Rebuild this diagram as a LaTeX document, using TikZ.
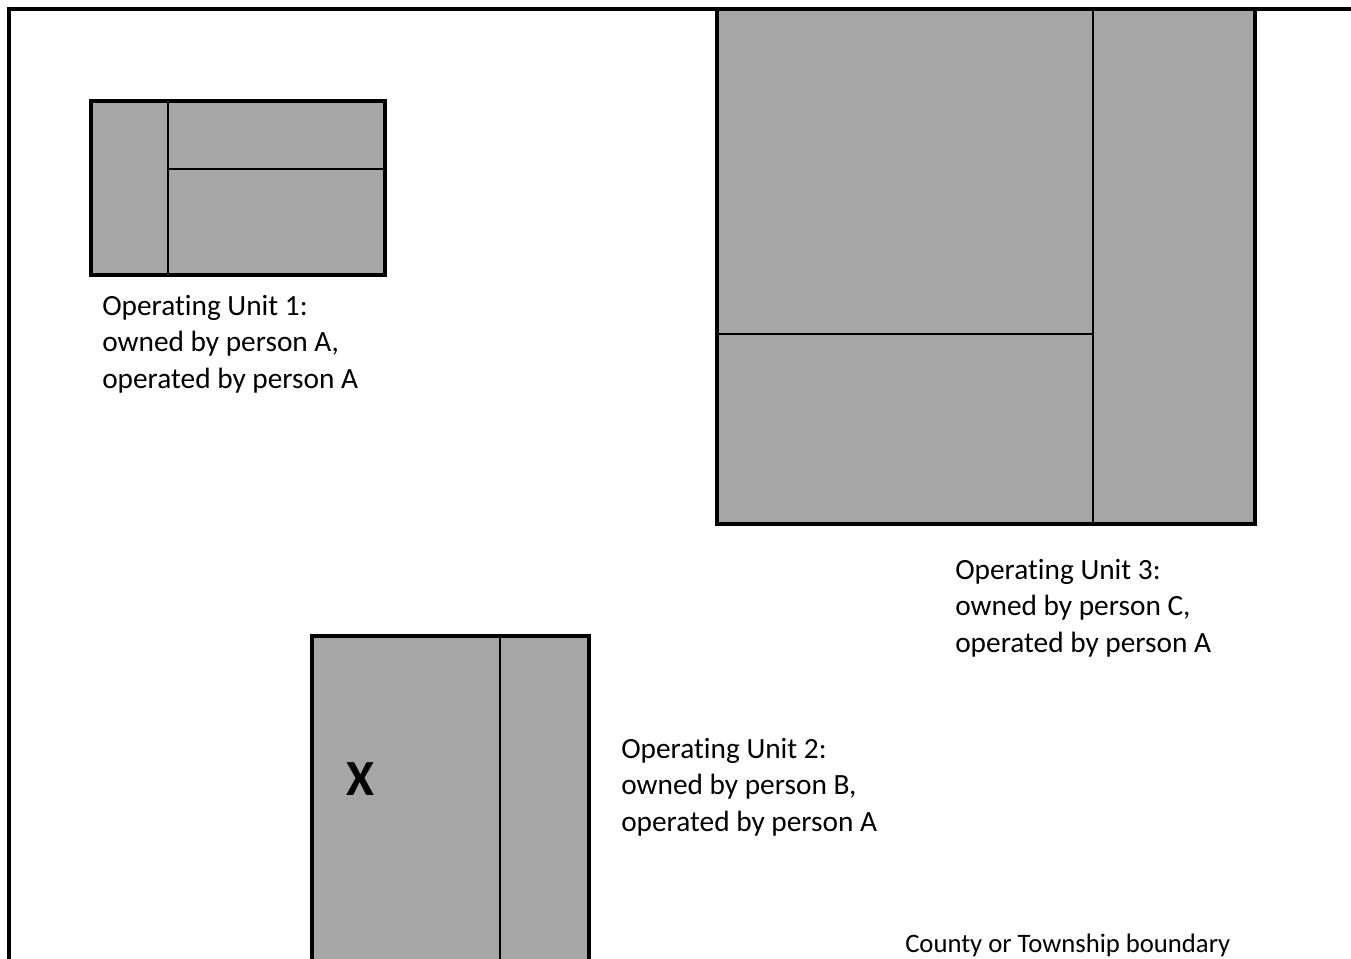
\documentclass[tikz,border=0pt]{standalone}
\usepackage{fontspec}
\setmainfont{Carlito}[Ligatures=NoCommon]
\usetikzlibrary{positioning}
\definecolor{parcelgray}{RGB}{166,166,166}
\tikzset{
    every picture/.style={
        x=0.75pt,y=-0.75pt,
        unit/.style={fill=parcelgray,draw=black,line width=2.6pt},
        divider/.style={draw=black,line width=1.3pt},
        boundary/.style={draw=black,line width=2.6pt},
        caption/.style={anchor=west,align=left,inner sep=0pt,
            font=\fontsize{22}{27.5}\selectfont}
    }
}
\begin{document}
\begin{tikzpicture}
    \useasboundingbox (0,0) rectangle (1351,958);
    \clip (0,0) rectangle (1351,958);
    \fill[white] (0,0) rectangle (1351,958);
    % operating unit 1
    \draw[unit] (91,101) rectangle (385,275);
    \draw[divider] (168,101) -- (168,275)
                   (168,169) -- (385,169);
    % operating unit 3
    \draw[unit] (717,9) rectangle (1255,524);
    \draw[divider] (1093,9) -- (1093,524)
                   (717,334) -- (1093,334);
    % operating unit 2
    \draw[unit] (312,636) rectangle (589,980);
    \draw[divider] (500,636) -- (500,980);
    % county boundary
    \draw[boundary] (1400,9) -- (9,9) -- (9,1000);
    % labels
    \node[font=\fontsize{38}{38}\bfseries\selectfont] (x) at (360,779) {X};
    \node[caption] (u1) at (102,344) {Operating Unit 1:\\owned by person A,\\operated by person A};
    \node[caption] (u3) at (955,608) {Operating Unit 3:\\owned by person C,\\operated by person A};
    \node[caption] (u2) at (621,787) {Operating Unit 2:\\owned by person B,\\operated by person A};
    \node[caption,font=\fontsize{20}{24}\selectfont] (cb) at (905,945) {County or Township boundary};
\end{tikzpicture}
\end{document}
